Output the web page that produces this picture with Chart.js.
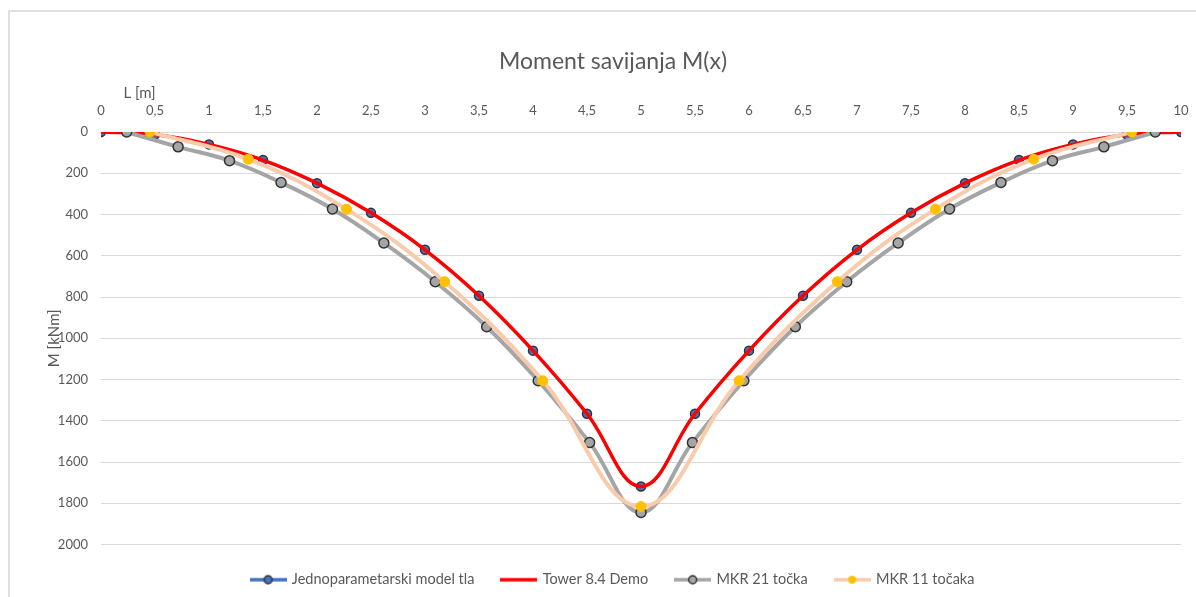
<!DOCTYPE html>
<html>
<head>
<meta charset="utf-8">
<script src="https://cdn.jsdelivr.net/npm/chart.js@4.4.1/dist/chart.umd.min.js"></script>
<style>
  html, body { margin: 0; padding: 0; background: #fff; overflow: hidden; }
  #frame { position: absolute; left: 8px; top: 10px; width: 1300px; height: 700px;
           border-left: 2px solid #e0e0e0; border-top: 2px solid #e0e0e0; }
  #momentChart { position: absolute; left: 0; top: 0; }
</style>
</head>
<body>
<div id="frame"></div>
<canvas id="momentChart" width="1196" height="597"></canvas>
<script>
// Positions along the beam, L [m]
const xModel = [0, 0.5, 1, 1.5, 2, 2.5, 3, 3.5, 4, 4.5, 5, 5.5, 6, 6.5, 7, 7.5, 8, 8.5, 9, 9.5, 10];
const x21 = [0.238, 0.714, 1.190, 1.667, 2.143, 2.619, 3.095, 3.571, 4.048, 4.524, 5.0,
             5.476, 5.952, 6.429, 6.905, 7.381, 7.857, 8.333, 8.810, 9.286, 9.762];
const x11 = [0.455, 1.364, 2.273, 3.182, 4.091, 5.0, 5.909, 6.818, 7.727, 8.636, 9.545];

// Bending moment M [kNm]
const mModel = [0, 12, 60, 136, 248, 392, 571, 794, 1060, 1366, 1719, 1366, 1060, 794, 571, 392, 248, 136, 60, 12, 0];
const mTower = [0, 12, 60, 136, 248, 392, 571, 794, 1060, 1366, 1719, 1366, 1060, 794, 571, 392, 248, 136, 60, 12, 0];
const m21 = [0, 72, 139, 245, 373, 538, 726, 944, 1206, 1506, 1845, 1506, 1206, 944, 726, 538, 373, 245, 139, 72, 0];
const m11 = [0, 132, 374, 726, 1206, 1816, 1206, 726, 374, 132, 0];

const seriesNames = ['Jednoparametarski model tla', 'Tower 8.4 Demo', 'MKR 21 točka', 'MKR 11 točaka'];
const yTicksMax = 2000;

const toPoints = (xs, ys) => xs.map((x, i) => ({ x: x, y: ys[i] }));

// Small line+marker icons for the legend (Excel style)
function legendIcon(lineColor, fill, stroke) {
  const c = document.createElement('canvas');
  c.width = 37; c.height = 12;
  const g = c.getContext('2d');
  g.strokeStyle = lineColor;
  g.lineWidth = 3.5;
  g.beginPath(); g.moveTo(0, 6); g.lineTo(37, 6); g.stroke();
  if (fill) {
    g.beginPath(); g.arc(18.5, 6, 4, 0, Math.PI * 2);
    g.fillStyle = fill; g.fill();
    if (stroke) { g.lineWidth = 1.5; g.strokeStyle = stroke; g.stroke(); }
  }
  return c;
}
const legendIcons = [
  legendIcon('#4472c4', '#4472c4', '#333333'),
  legendIcon('#ff0000', null, null),
  legendIcon('#a5a5a5', '#a5a5a5', '#333333'),
  legendIcon('#f8cbad', '#ffc000', null),
];

Chart.defaults.font.family = 'Lato, "Open Sans", sans-serif';
Chart.defaults.color = '#595959';

const ctx = document.getElementById('momentChart').getContext('2d');

new Chart(ctx, {
  type: 'line',
  data: {
    datasets: [{
      label: seriesNames[0],
      data: toPoints(xModel, mModel),
      borderColor: '#4472c4',
      borderWidth: 2.5,
      pointRadius: 4.5,
      pointBackgroundColor: '#4472c4',
      pointBorderColor: '#333333',
      pointBorderWidth: 1.5,
      tension: 0.4,
      order: 4,
    }, {
      label: seriesNames[1],
      data: toPoints(xModel, mTower),
      borderColor: '#ff0000',
      borderWidth: 3.5,
      pointRadius: 0,
      tension: 0.4,
      order: 3,
    }, {
      label: seriesNames[2],
      data: toPoints(x21, m21),
      borderColor: '#a5a5a5',
      borderWidth: 4,
      pointRadius: 5,
      pointBackgroundColor: '#a5a5a5',
      pointBorderColor: '#333333',
      pointBorderWidth: 1.5,
      tension: 0.4,
      order: 2,
    }, {
      label: seriesNames[3],
      data: toPoints(x11, m11),
      borderColor: '#f8cbad',
      borderWidth: 4,
      pointRadius: 5,
      pointBackgroundColor: '#ffc000',
      pointBorderColor: '#ffc000',
      pointBorderWidth: 1,
      tension: 0.4,
      order: 1,
    }],
  },
  options: {
    responsive: false,
    animation: false,
    events: [],
    layout: { padding: { top: 0, left: 45, right: 15, bottom: 0 } },
    scales: {
      x: {
        type: 'linear',
        position: 'top',
        min: 0,
        max: 10,
        ticks: {
          stepSize: 0.5,
          padding: 0,
          font: { size: 13 },
          maxRotation: 0,
          callback: v => String(v).replace('.', ','),
        },
        // invisible tick marks keep the labels off the plot
        grid: { display: true, drawOnChartArea: false, drawTicks: true, tickLength: 13, tickColor: 'rgba(0,0,0,0)' },
        border: { display: false },
        title: { display: true, text: '\u2003\u2003L [m]', align: 'start', font: { size: 15 }, padding: { top: 0, bottom: 0 } },
        afterFit: s => { s.height = 48; },
      },
      y: {
        reverse: true,
        min: 0,
        max: yTicksMax,
        ticks: {
          stepSize: 200,
          padding: 13,
          font: { size: 13 },
          callback: v => String(v),
        },
        grid: { color: '#d9d9d9', drawTicks: false },
        border: { display: false },
        title: { display: true, text: 'M [kNm]', font: { size: 15 }, padding: { top: 0, bottom: 0 } },
        afterFit: s => { s.width = 56; },
      },
    },
    plugins: {
      title: {
        display: true,
        text: 'Moment savijanja M(x)',
        color: '#595959',
        font: { size: 23, weight: 'normal' },
        padding: { top: 48, bottom: 8.4 },
      },
      legend: {
        position: 'bottom',
        labels: {
          usePointStyle: true,
          pointStyleWidth: 33,
          padding: 28,
          font: { size: 14.5 },
          color: '#595959',
          sort: (a, b) => a.datasetIndex - b.datasetIndex,
          generateLabels: chart => {
            const items = Chart.defaults.plugins.legend.labels.generateLabels(chart);
            items.forEach(it => { it.pointStyle = legendIcons[it.datasetIndex]; });
            return items;
          },
        },
      },
      tooltip: { enabled: false },
    },
  },
});
</script>
</body>
</html>
